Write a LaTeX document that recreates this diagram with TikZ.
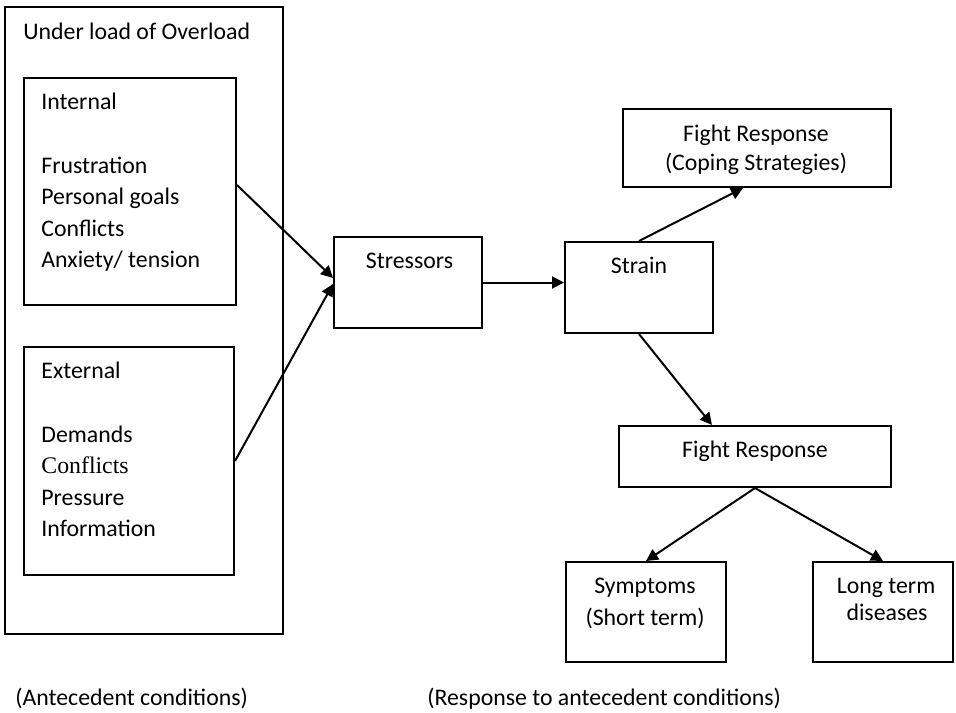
\documentclass[tikz,border=0pt]{standalone}
\usepackage{fontspec}
\setmainfont{Carlito}
\newfontfamily\timesfont{Liberation Serif}
\usetikzlibrary{arrows.meta}

\tikzset{
  box/.style={draw, line width=1pt, rectangle, inner sep=0pt},
  txt/.style={inner sep=0pt, font=\fontsize{11.9}{15.8}\selectfont},
  arr/.style={-{Triangle[length=6pt,width=6pt]}, line width=1pt}
}

\begin{document}
\begin{tikzpicture}[x=0.5pt,y=-0.5pt]
    \useasboundingbox (0,0) rectangle (956,712);
    % Left side: antecedent conditions
    \node[box, minimum width=139pt, minimum height=313.5pt] (outer) at (144,320.5) {};
    \node[txt, anchor=base west] (outerlbl) at (23,39) {Under load of Overload};
    \node[box, minimum width=106pt, minimum height=113.5pt] (int) at (130,191.5) {};
    \node[box, minimum width=105pt, minimum height=114pt] (ext) at (129,461) {};
    % Internal list
    \node[txt, anchor=base west] (intlbl) at (41,109) {Internal};
    \foreach \item [count=\i] in {Frustration, Personal goals, Conflicts, Anxiety/ tension}
      \node[txt, anchor=base west] (int\i) at (41,141.5+31.5*\i) {\item};
    % External list
    \node[txt, anchor=base west] (extlbl) at (41,378) {External};
    \foreach \item [count=\i] in {Demands, {\timesfont Conflicts}, Pressure, Information}
      \node[txt, anchor=base west] (ext\i) at (41,410.5+31.6*\i) {\item};

    % Middle and right side
    \node[box, minimum width=74pt, minimum height=45.5pt] (stress) at (408,282.5) {};
    \node[txt, anchor=base] (stresslbl) at (409.5,268) {Stressors};
    \node[box, minimum width=74pt, minimum height=45.5pt] (strain) at (639,287.5) {};
    \node[txt, anchor=base] (strainlbl) at (639,273) {Strain};
    \node[box, minimum width=134pt, minimum height=39pt] (cope) at (757,148) {};
    \node[txt, anchor=base] (copelbl1) at (756,141) {Fight Response};
    \node[txt, anchor=base] (copelbl2) at (756,170) {(Coping Strategies)};
    \node[box, minimum width=136pt, minimum height=30.5pt] (fight) at (755,456.5) {};
    \node[txt, anchor=base] (fightlbl) at (755,457) {Fight Response};
    \node[box, minimum width=80pt, minimum height=50pt] (sympt) at (646,612) {};
    \node[txt, anchor=base] (symptlbl1) at (645,593) {Symptoms};
    \node[txt, anchor=base] (symptlbl2) at (645,625) {(Short term)};
    \node[box, minimum width=70pt, minimum height=50pt] (longt) at (883,612) {};
    \node[txt, anchor=base] (longtlbl1) at (886,593) {Long term};
    \node[txt, anchor=base] (longtlbl2) at (887,620) {diseases};

    % Captions
    \node[txt, anchor=base west] (capleft) at (15,705) {(Antecedent conditions)};
    \node[txt, anchor=base west] (capright) at (427,705) {(Response to antecedent conditions)};

    % Arrows
    \draw[arr] ([yshift=3.25pt]int.east) -- ([yshift=2.25pt]stress.west);
    \draw[arr] (ext.east) -- ([yshift=-0.75pt]stress.west);
    \draw[arr] (stress.east) -- (stress.east -| strain.west);
    \draw[arr] (strain.north) -- ([xshift=-7pt]cope.south);
    \draw[arr] (strain.south) -- ([xshift=-21.5pt]fight.north);
    \draw[arr] (fight.south) -- (sympt.north);
    \draw[arr] (fight.south) -- (longt.north);
\end{tikzpicture}
\end{document}
